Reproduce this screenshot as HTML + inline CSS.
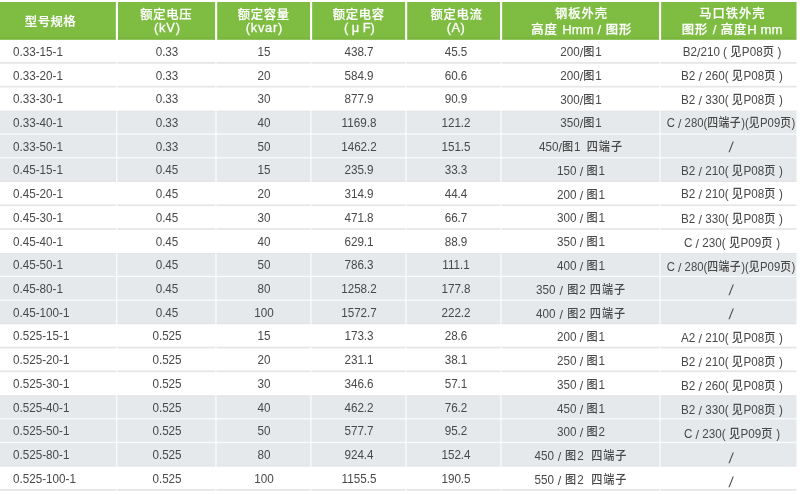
<!DOCTYPE html>
<html lang="zh-CN"><head><meta charset="utf-8"><title>规格表</title>
<style>
html,body{margin:0;padding:0;background:#fff;}
body{width:800px;height:494px;position:relative;overflow:hidden;font-family:"Liberation Sans","Noto Sans CJK SC",sans-serif;}
.bg{position:absolute;left:0;top:0;display:block;}
.t{position:absolute;white-space:pre;line-height:1;}
.h{color:#fff;font-size:12.8px;font-weight:500;text-align:center;transform:translateX(-50%);}
.hl{font-size:13.1px;letter-spacing:0.1px;}
.d{color:#484848;font-size:12.7px;transform:scaleX(0.92);transform-origin:0 0;}
.z{font-size:12.1px;letter-spacing:1.0px;font-weight:500;}
.s{font-size:13.6px;position:relative;top:0.7px;}
.w{transform:translateX(-50%) scaleX(0.895) !important;}
.q{font-size:14.5px;transform:translateX(-50%) skewX(-7deg) !important;}
.c7 .z{letter-spacing:0.5px;}
.c{transform:translateX(-50%) scaleX(0.92);transform-origin:50% 0;text-align:center;}
</style></head><body>

<svg class="bg" width="800" height="494" viewBox="0 0 800 494" shape-rendering="auto">
<rect x="0" y="2.0" width="796.5" height="37.8" fill="#7ebc42"/>
<rect x="0" y="37.199999999999996" width="796.5" height="2.6" fill="#5a8a20" fill-opacity="0.09"/>
<rect x="0" y="110.91" width="796.5" height="23.17" fill="#e6e9ec"/>
<rect x="0" y="134.08" width="796.5" height="23.72" fill="#e6e9ec"/>
<rect x="0" y="157.80" width="796.5" height="23.72" fill="#e6e9ec"/>
<rect x="0" y="253.23" width="796.5" height="23.17" fill="#e6e9ec"/>
<rect x="0" y="276.40" width="796.5" height="23.72" fill="#e6e9ec"/>
<rect x="0" y="300.12" width="796.5" height="23.72" fill="#e6e9ec"/>
<rect x="0" y="395.55" width="796.5" height="23.17" fill="#e6e9ec"/>
<rect x="0" y="418.72" width="796.5" height="23.72" fill="#e6e9ec"/>
<rect x="0" y="442.44" width="796.5" height="23.72" fill="#e6e9ec"/>
<rect x="0" y="62.07" width="796.5" height="1.7" fill="#e5e5e5"/>
<rect x="0" y="85.79" width="796.5" height="1.7" fill="#e5e5e5"/>
<rect x="0" y="110.66" width="796.5" height="1.0" fill="#e2e4e7"/>
<rect x="0" y="133.43" width="796.5" height="1.3" fill="#f8fafc"/>
<rect x="0" y="157.15" width="796.5" height="1.3" fill="#f8fafc"/>
<rect x="0" y="180.52" width="796.5" height="1.4" fill="#e2e3e6"/>
<rect x="0" y="204.39" width="796.5" height="1.7" fill="#e5e5e5"/>
<rect x="0" y="228.11" width="796.5" height="1.7" fill="#e5e5e5"/>
<rect x="0" y="252.98" width="796.5" height="1.0" fill="#e2e4e7"/>
<rect x="0" y="275.75" width="796.5" height="1.3" fill="#f8fafc"/>
<rect x="0" y="299.47" width="796.5" height="1.3" fill="#f8fafc"/>
<rect x="0" y="322.84" width="796.5" height="1.4" fill="#e2e3e6"/>
<rect x="0" y="346.71" width="796.5" height="1.7" fill="#e5e5e5"/>
<rect x="0" y="370.43" width="796.5" height="1.7" fill="#e5e5e5"/>
<rect x="0" y="395.30" width="796.5" height="1.0" fill="#e2e4e7"/>
<rect x="0" y="418.07" width="796.5" height="1.3" fill="#f8fafc"/>
<rect x="0" y="441.79" width="796.5" height="1.3" fill="#f8fafc"/>
<rect x="0" y="465.16" width="796.5" height="1.4" fill="#e2e3e6"/>
<rect x="0" y="489.03" width="796.5" height="1.7" fill="#e5e5e5"/>
<rect x="115.85" y="2.0" width="2.1" height="37.8" fill="#ffffff"/>
<rect x="116.05" y="39.8" width="1.3" height="454.2" fill="#ffffff" fill-opacity="0.8"/>
<rect x="215.10" y="2.0" width="2.1" height="37.8" fill="#ffffff"/>
<rect x="215.30" y="39.8" width="1.3" height="454.2" fill="#ffffff" fill-opacity="0.8"/>
<rect x="310.05" y="2.0" width="2.1" height="37.8" fill="#ffffff"/>
<rect x="310.25" y="39.8" width="1.3" height="454.2" fill="#ffffff" fill-opacity="0.8"/>
<rect x="405.10" y="2.0" width="2.1" height="37.8" fill="#ffffff"/>
<rect x="405.30" y="39.8" width="1.3" height="454.2" fill="#ffffff" fill-opacity="0.8"/>
<rect x="500.05" y="2.0" width="2.1" height="37.8" fill="#ffffff"/>
<rect x="500.25" y="39.8" width="1.3" height="454.2" fill="#ffffff" fill-opacity="0.8"/>
<rect x="659.05" y="2.0" width="2.1" height="37.8" fill="#ffffff"/>
<rect x="659.25" y="39.8" width="1.3" height="454.2" fill="#ffffff" fill-opacity="0.8"/>
</svg>
<div class="t h" style="left:50.45px;top:16.0px;font-size:12.4px;letter-spacing:0.4px;-webkit-text-stroke:0.2px #fff;">型号规格</div>
<div class="t h" style="left:166.35px;top:9.0px;font-size:12.3px;letter-spacing:0.7px;-webkit-text-stroke:0.2px #fff;">额定电压</div>
<div class="t h" style="left:167.43px;top:22.0px;font-size:12.8px;letter-spacing:0.85px;-webkit-text-stroke:0.3px #fff;">(kV)</div>
<div class="t h" style="left:263.85px;top:9.0px;font-size:12.3px;letter-spacing:0.7px;-webkit-text-stroke:0.2px #fff;">额定容量</div>
<div class="t h" style="left:264.38px;top:22.0px;font-size:12.8px;letter-spacing:0.75px;-webkit-text-stroke:0.3px #fff;">(kvar)</div>
<div class="t h" style="left:358.85px;top:9.0px;font-size:12.3px;letter-spacing:0.7px;-webkit-text-stroke:0.2px #fff;">额定电容</div>
<div class="t h" style="left:359.30px;top:22.0px;font-size:12.8px;letter-spacing:0px;-webkit-text-stroke:0.3px #fff;">( μ F)</div>
<div class="t h" style="left:456.55px;top:9.0px;font-size:12.3px;letter-spacing:0.7px;-webkit-text-stroke:0.2px #fff;">额定电流</div>
<div class="t h" style="left:455.95px;top:22.0px;font-size:12.8px;letter-spacing:0.5px;-webkit-text-stroke:0.3px #fff;">(A)</div>
<div class="t h" style="left:581.58px;top:8.0px;font-size:12.3px;letter-spacing:0.95px;-webkit-text-stroke:0.2px #fff;">钢板外壳</div>
<div class="t h" style="left:581.77px;top:23.0px;font-size:12.3px;letter-spacing:0.95px;-webkit-text-stroke:0.25px #fff;">高度 <span class=hl>Hmm /</span> 图形</div>
<div class="t h" style="left:732.48px;top:8.0px;font-size:12.3px;letter-spacing:0.95px;-webkit-text-stroke:0.2px #fff;">马口铁外壳</div>
<div class="t h" style="left:732.18px;top:23.0px;font-size:12.3px;letter-spacing:0.95px;-webkit-text-stroke:0.25px #fff;">图形 <span class=hl>/</span> 高度<span class=hl>H mm</span></div>
<div class="t d" style="left:12.7px;top:46px">0.33-15-1</div>
<div class="t d c" style="left:166.6px;top:46px;">0.33</div>
<div class="t d c" style="left:263.6px;top:46px;">15</div>
<div class="t d c" style="left:358.6px;top:46px;">438.7</div>
<div class="t d c" style="left:455.8px;top:46px;">45.5</div>
<div class="t d c" style="left:581.0px;top:45px;">200<span class="s">/</span><span class="z">图</span>1</div>
<div class="t d c c7" style="left:732.0px;top:45px;">B2<span class="s">/</span>210 ( <span class="z">见</span>P08<span class="z">页</span> )</div>
<div class="t d" style="left:12.7px;top:70px">0.33-20-1</div>
<div class="t d c" style="left:166.6px;top:70px;">0.33</div>
<div class="t d c" style="left:263.6px;top:70px;">20</div>
<div class="t d c" style="left:358.6px;top:70px;">584.9</div>
<div class="t d c" style="left:455.8px;top:70px;">60.6</div>
<div class="t d c" style="left:581.0px;top:69px;">200<span class="s">/</span><span class="z">图</span>1</div>
<div class="t d c c7" style="left:732.0px;top:69px;">B2 <span class="s">/</span> 260( <span class="z">见</span>P08<span class="z">页</span> )</div>
<div class="t d" style="left:12.7px;top:93px">0.33-30-1</div>
<div class="t d c" style="left:166.6px;top:93px;">0.33</div>
<div class="t d c" style="left:263.6px;top:93px;">30</div>
<div class="t d c" style="left:358.6px;top:93px;">877.9</div>
<div class="t d c" style="left:455.8px;top:93px;">90.9</div>
<div class="t d c" style="left:581.0px;top:93px;">300<span class="s">/</span><span class="z">图</span>1</div>
<div class="t d c c7" style="left:732.0px;top:93px;">B2 <span class="s">/</span> 330( <span class="z">见</span>P08<span class="z">页</span> )</div>
<div class="t d" style="left:12.7px;top:117px">0.33-40-1</div>
<div class="t d c" style="left:166.6px;top:117px;">0.33</div>
<div class="t d c" style="left:263.6px;top:117px;">40</div>
<div class="t d c" style="left:358.6px;top:117px;">1169.8</div>
<div class="t d c" style="left:455.8px;top:117px;">121.2</div>
<div class="t d c" style="left:581.0px;top:116px;">350<span class="s">/</span><span class="z">图</span>1</div>
<div class="t d c c7 w" style="left:730.6px;top:116px;">C <span class="s">/</span> 280(<span class="z">四端子</span>)(<span class="z">见</span>P09<span class="z">页</span>)</div>
<div class="t d" style="left:12.7px;top:141px">0.33-50-1</div>
<div class="t d c" style="left:166.6px;top:141px;">0.33</div>
<div class="t d c" style="left:263.6px;top:141px;">50</div>
<div class="t d c" style="left:358.6px;top:141px;">1462.2</div>
<div class="t d c" style="left:455.8px;top:141px;">151.5</div>
<div class="t d c" style="left:581.0px;top:140px;word-spacing:3.26px;">450<span class="s">/</span><span class="z">图</span>1 <span class="z">四端子</span></div>
<div class="t d c q" style="left:731.6px;top:139.63px">/</div>
<div class="t d" style="left:12.7px;top:164px">0.45-15-1</div>
<div class="t d c" style="left:166.6px;top:164px;">0.45</div>
<div class="t d c" style="left:263.6px;top:164px;">15</div>
<div class="t d c" style="left:358.6px;top:164px;">235.9</div>
<div class="t d c" style="left:455.8px;top:164px;">33.3</div>
<div class="t d c" style="left:581.0px;top:164px;">150 <span class="s">/</span> <span class="z">图</span>1</div>
<div class="t d c c7" style="left:732.0px;top:164px;">B2 <span class="s">/</span> 210( <span class="z">见</span>P08<span class="z">页</span> )</div>
<div class="t d" style="left:12.7px;top:188px">0.45-20-1</div>
<div class="t d c" style="left:166.6px;top:188px;">0.45</div>
<div class="t d c" style="left:263.6px;top:188px;">20</div>
<div class="t d c" style="left:358.6px;top:188px;">314.9</div>
<div class="t d c" style="left:455.8px;top:188px;">44.4</div>
<div class="t d c" style="left:581.0px;top:188px;">200 <span class="s">/</span> <span class="z">图</span>1</div>
<div class="t d c c7" style="left:732.0px;top:187px;">B2 <span class="s">/</span> 210( <span class="z">见</span>P08<span class="z">页</span> )</div>
<div class="t d" style="left:12.7px;top:212px">0.45-30-1</div>
<div class="t d c" style="left:166.6px;top:212px;">0.45</div>
<div class="t d c" style="left:263.6px;top:212px;">30</div>
<div class="t d c" style="left:358.6px;top:212px;">471.8</div>
<div class="t d c" style="left:455.8px;top:212px;">66.7</div>
<div class="t d c" style="left:581.0px;top:211px;">300 <span class="s">/</span> <span class="z">图</span>1</div>
<div class="t d c c7" style="left:732.0px;top:212px;">B2 <span class="s">/</span> 330( <span class="z">见</span>P08<span class="z">页</span> )</div>
<div class="t d" style="left:12.7px;top:236px">0.45-40-1</div>
<div class="t d c" style="left:166.6px;top:236px;">0.45</div>
<div class="t d c" style="left:263.6px;top:236px;">40</div>
<div class="t d c" style="left:358.6px;top:236px;">629.1</div>
<div class="t d c" style="left:455.8px;top:236px;">88.9</div>
<div class="t d c" style="left:581.0px;top:235px;">350 <span class="s">/</span> <span class="z">图</span>1</div>
<div class="t d c c7" style="left:732.0px;top:236px;">C <span class="s">/</span> 230( <span class="z">见</span>P09<span class="z">页</span> )</div>
<div class="t d" style="left:12.7px;top:259px">0.45-50-1</div>
<div class="t d c" style="left:166.6px;top:259px;">0.45</div>
<div class="t d c" style="left:263.6px;top:259px;">50</div>
<div class="t d c" style="left:358.6px;top:259px;">786.3</div>
<div class="t d c" style="left:455.8px;top:259px;">111.1</div>
<div class="t d c" style="left:581.0px;top:259px;">400 <span class="s">/</span> <span class="z">图</span>1</div>
<div class="t d c c7 w" style="left:730.6px;top:260px;">C <span class="s">/</span> 280(<span class="z">四端子</span>)(<span class="z">见</span>P09<span class="z">页</span>)</div>
<div class="t d" style="left:12.7px;top:283px">0.45-80-1</div>
<div class="t d c" style="left:166.6px;top:283px;">0.45</div>
<div class="t d c" style="left:263.6px;top:283px;">80</div>
<div class="t d c" style="left:358.6px;top:283px;">1258.2</div>
<div class="t d c" style="left:455.8px;top:283px;">177.8</div>
<div class="t d c" style="left:581.0px;top:283px;word-spacing:0.94px;">350 <span class="s">/</span> <span class="z">图</span>2 <span class="z">四端子</span></div>
<div class="t d c q" style="left:731.6px;top:283.45px">/</div>
<div class="t d" style="left:12.7px;top:307px">0.45-100-1</div>
<div class="t d c" style="left:166.6px;top:307px;">0.45</div>
<div class="t d c" style="left:263.6px;top:307px;">100</div>
<div class="t d c" style="left:358.6px;top:307px;">1572.7</div>
<div class="t d c" style="left:455.8px;top:307px;">222.2</div>
<div class="t d c" style="left:581.0px;top:307px;word-spacing:0.94px;">400 <span class="s">/</span> <span class="z">图</span>2 <span class="z">四端子</span></div>
<div class="t d c q" style="left:731.6px;top:307.17px">/</div>
<div class="t d" style="left:12.7px;top:330px">0.525-15-1</div>
<div class="t d c" style="left:166.6px;top:330px;">0.525</div>
<div class="t d c" style="left:263.6px;top:330px;">15</div>
<div class="t d c" style="left:358.6px;top:330px;">173.3</div>
<div class="t d c" style="left:455.8px;top:330px;">28.6</div>
<div class="t d c" style="left:581.0px;top:330px;">200 <span class="s">/</span> <span class="z">图</span>1</div>
<div class="t d c c7" style="left:732.0px;top:331px;">A2 <span class="s">/</span> 210( <span class="z">见</span>P08<span class="z">页</span> )</div>
<div class="t d" style="left:12.7px;top:354px">0.525-20-1</div>
<div class="t d c" style="left:166.6px;top:354px;">0.525</div>
<div class="t d c" style="left:263.6px;top:354px;">20</div>
<div class="t d c" style="left:358.6px;top:354px;">231.1</div>
<div class="t d c" style="left:455.8px;top:354px;">38.1</div>
<div class="t d c" style="left:581.0px;top:354px;">250 <span class="s">/</span> <span class="z">图</span>1</div>
<div class="t d c c7" style="left:732.0px;top:355px;">B2 <span class="s">/</span> 210( <span class="z">见</span>P08<span class="z">页</span> )</div>
<div class="t d" style="left:12.7px;top:378px">0.525-30-1</div>
<div class="t d c" style="left:166.6px;top:378px;">0.525</div>
<div class="t d c" style="left:263.6px;top:378px;">30</div>
<div class="t d c" style="left:358.6px;top:378px;">346.6</div>
<div class="t d c" style="left:455.8px;top:378px;">57.1</div>
<div class="t d c" style="left:581.0px;top:378px;">350 <span class="s">/</span> <span class="z">图</span>1</div>
<div class="t d c c7" style="left:732.0px;top:379px;">B2 <span class="s">/</span> 260( <span class="z">见</span>P08<span class="z">页</span> )</div>
<div class="t d" style="left:12.7px;top:402px">0.525-40-1</div>
<div class="t d c" style="left:166.6px;top:402px;">0.525</div>
<div class="t d c" style="left:263.6px;top:402px;">40</div>
<div class="t d c" style="left:358.6px;top:402px;">462.2</div>
<div class="t d c" style="left:455.8px;top:402px;">76.2</div>
<div class="t d c" style="left:581.0px;top:402px;">450 <span class="s">/</span> <span class="z">图</span>1</div>
<div class="t d c c7" style="left:732.0px;top:403px;">B2 <span class="s">/</span> 330( <span class="z">见</span>P08<span class="z">页</span> )</div>
<div class="t d" style="left:12.7px;top:425px">0.525-50-1</div>
<div class="t d c" style="left:166.6px;top:425px;">0.525</div>
<div class="t d c" style="left:263.6px;top:425px;">50</div>
<div class="t d c" style="left:358.6px;top:425px;">577.7</div>
<div class="t d c" style="left:455.8px;top:425px;">95.2</div>
<div class="t d c" style="left:581.0px;top:425px;">300 <span class="s">/</span> <span class="z">图</span>2</div>
<div class="t d c c7" style="left:732.0px;top:427px;">C <span class="s">/</span> 230( <span class="z">见</span>P09<span class="z">页</span> )</div>
<div class="t d" style="left:12.7px;top:449px">0.525-80-1</div>
<div class="t d c" style="left:166.6px;top:449px;">0.525</div>
<div class="t d c" style="left:263.6px;top:449px;">80</div>
<div class="t d c" style="left:358.6px;top:449px;">924.4</div>
<div class="t d c" style="left:455.8px;top:449px;">152.4</div>
<div class="t d c" style="left:581.0px;top:449px;word-spacing:0.60px;">450 <span class="s">/</span> <span class="z">图</span>2  <span class="z">四端子</span></div>
<div class="t d c q" style="left:731.6px;top:450.99px">/</div>
<div class="t d" style="left:12.7px;top:473px">0.525-100-1</div>
<div class="t d c" style="left:166.6px;top:473px;">0.525</div>
<div class="t d c" style="left:263.6px;top:473px;">100</div>
<div class="t d c" style="left:358.6px;top:473px;">1155.5</div>
<div class="t d c" style="left:455.8px;top:473px;">190.5</div>
<div class="t d c" style="left:581.0px;top:473px;word-spacing:0.60px;">550 <span class="s">/</span> <span class="z">图</span>2  <span class="z">四端子</span></div>
<div class="t d c q" style="left:731.6px;top:474.71px">/</div>
</body></html>
